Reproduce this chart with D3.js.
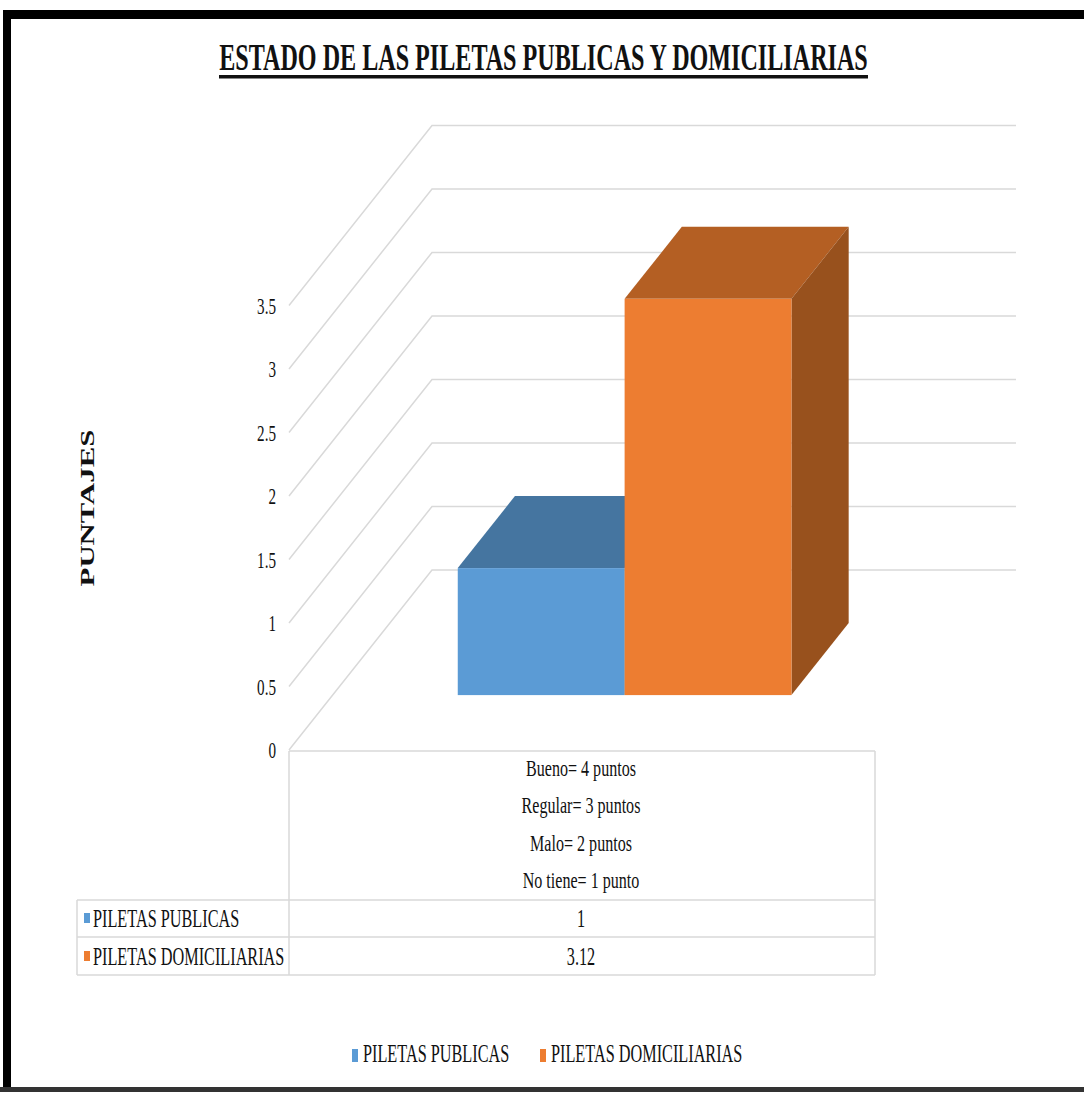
<!DOCTYPE html>
<html>
<head>
<meta charset="utf-8">
<script src="https://cdn.jsdelivr.net/npm/d3@7"></script>
<style>
  html, body { margin: 0; padding: 0; background: #fff; }
  svg { display: block; }
  text { font-family: "Liberation Serif", "Times New Roman", serif; fill: #111; }
</style>
</head>
<body>
<svg id="chart" width="1084" height="1095"></svg>
<script>
// ---- data ----
const chartTitle = "ESTADO DE LAS PILETAS PUBLICAS Y DOMICILIARIAS";
const yAxisTitle = "PUNTAJES";
const series = ["PILETAS PUBLICAS", "PILETAS DOMICILIARIAS"];
const values = [1, 3.12];
const valueLabels = ["1", "3.12"];
const categoryLines = ["Bueno= 4 puntos", "Regular= 3 puntos", "Malo= 2 puntos", "No tiene= 1 punto"];
const yTicks = [0, 0.5, 1, 1.5, 2, 2.5, 3, 3.5];
const yTickLabels = ["0", "0.5", "1", "1.5", "2", "2.5", "3", "3.5"];

// ---- styles ----
const faceFront = ["#5b9bd5", "#ed7d31"];
const faceTop   = ["#4575a0", "#b45f23"];
const faceSide  = ["#3b6790", "#98511d"];
const gridColor = "#d9d9d9";
const SX = 0.65;            // horizontal text compression

const svg = d3.select("#chart");

// frame
svg.append("rect").attr("x", 3).attr("y", 10).attr("width", 1081).attr("height", 9).attr("fill", "#000");
svg.append("rect").attr("x", 3).attr("y", 10).attr("width", 8).attr("height", 1082).attr("fill", "#000");
svg.append("rect").attr("x", 0).attr("y", 1087).attr("width", 1084).attr("height", 5).attr("fill", "#333");

function sText(parent, str, x, y, o = {}) {
  const sx = o.sx ?? SX;
  return parent.append("text")
    .attr("transform", `translate(${x},${y}) scale(${sx},1)`)
    .attr("text-anchor", o.anchor || "start")
    .attr("font-size", o.size || 25)
    .attr("font-weight", o.weight || "normal")
    .text(str);
}

// title: condensed to a fixed width
const titleWidth = 649;
const titleText = svg.append("text")
  .attr("text-anchor", "middle")
  .attr("font-size", 39).attr("font-weight", "bold")
  .text(chartTitle);
const titleNatural = titleText.node().getComputedTextLength();
titleText.attr("transform", `translate(543.5,70) scale(${titleWidth / titleNatural},1)`);
svg.append("rect").attr("x", 543.5 - titleWidth / 2).attr("y", 75)
  .attr("width", titleWidth).attr("height", 3.5).attr("fill", "#111");

// y-axis title (vertical, glyph heights compressed)
const yTitle = svg.append("text")
  .attr("text-anchor", "middle")
  .attr("font-size", 30).attr("font-weight", "bold")
  .text(yAxisTitle);
const yTitleNatural = yTitle.node().getComputedTextLength();
yTitle.attr("transform", `translate(94,508) rotate(-90) scale(${157 / yTitleNatural},0.62)`);

// ---- 3D plot geometry ----
const X0 = 289, X1 = 873;           // front plane horizontal extent
const DX = 143, DY = -180;          // full depth vector
const y = d3.scaleLinear().domain([0, 3.5]).range([750, 750 - 3.5 * 127]);
const xb = d3.scaleBand().domain(series).range([X0, X1]).paddingInner(0).paddingOuter(0.75);
const depthFront = 0.305, depthSize = 0.4;

// gridlines (floor-to-back-wall)
const grid = svg.append("g");
yTicks.forEach(v => {
  const p = d3.path();
  p.moveTo(X0, y(v));
  p.lineTo(X0 + DX, y(v) + DY);
  p.lineTo(X1 + DX, y(v) + DY);
  grid.append("path").attr("d", p.toString())
    .attr("fill", "none").attr("stroke", gridColor).attr("stroke-width", 1.5);
});

// y-axis tick labels
const axis = d3.axisLeft(y).tickValues(yTicks).tickSize(0).tickPadding(0)
  .tickFormat((d, i) => yTickLabels[i]);
const axG = svg.append("g").attr("transform", "translate(276,0)").call(axis);
axG.select(".domain").remove();
axG.selectAll("text")
  .attr("font-family", "Liberation Serif, Times New Roman, serif")
  .attr("font-size", 24).attr("fill", "#111")
  .attr("dy", "0.33em")
  .attr("transform", "scale(0.63,1)");

// bars
const bars = svg.append("g");
series.forEach((s, i) => {
  const ox = DX * depthFront, oy = DY * depthFront;
  const dx = DX * depthSize, dy = DY * depthSize;
  const xl = xb(s) + ox, xr = xb(s) + xb.bandwidth() + ox;
  const yb = y(0) + oy, yt = y(values[i]) + oy;
  const poly = pts => pts.map(p => p.join(",")).join(" ");
  bars.append("polygon").attr("points", poly([[xl, yt], [xl + dx, yt + dy], [xr + dx, yt + dy], [xr, yt]]))
    .attr("fill", faceTop[i]);
  bars.append("polygon").attr("points", poly([[xr, yt], [xr + dx, yt + dy], [xr + dx, yb + dy], [xr, yb]]))
    .attr("fill", faceSide[i]);
  bars.append("rect").attr("x", xl).attr("y", yt).attr("width", xr - xl).attr("height", yb - yt)
    .attr("fill", faceFront[i]);
});

// ---- data table ----
const tbl = svg.append("g");
const line = (x1, y1, x2, y2) => tbl.append("line")
  .attr("x1", x1).attr("y1", y1).attr("x2", x2).attr("y2", y2)
  .attr("stroke", gridColor).attr("stroke-width", 1.5);
const TL = 77, TR = 875, rows = [900, 937, 975];
line(X0, 751, TR, 751);
rows.forEach(r => line(TL, r, TR, r));
line(TL, 900, TL, 975);
line(X0, 751, X0, 975);
line(TR, 751, TR, 975);

const cx = (X0 + X1) / 2;
const catBase = [776, 813, 851, 888];
categoryLines.forEach((t, i) => sText(tbl, t, cx, catBase[i], { anchor: "middle", size: 24, sx: 0.67 }));

const rowBase = [927, 965];
series.forEach((s, i) => {
  tbl.append("rect").attr("x", 84).attr("y", rowBase[i] - 14).attr("width", 6).attr("height", 10)
    .attr("fill", faceFront[i]);
  sText(tbl, s, 93, rowBase[i]);
  sText(tbl, valueLabels[i], cx, rowBase[i], { anchor: "middle" });
});

// ---- legend ----
const lg = svg.append("g");
const legendX = [352, 540];
series.forEach((s, i) => {
  lg.append("rect").attr("x", legendX[i]).attr("y", 1049).attr("width", 6).attr("height", 13)
    .attr("fill", faceFront[i]);
  sText(lg, s, legendX[i] + 11, 1062);
});
</script>
</body>
</html>
